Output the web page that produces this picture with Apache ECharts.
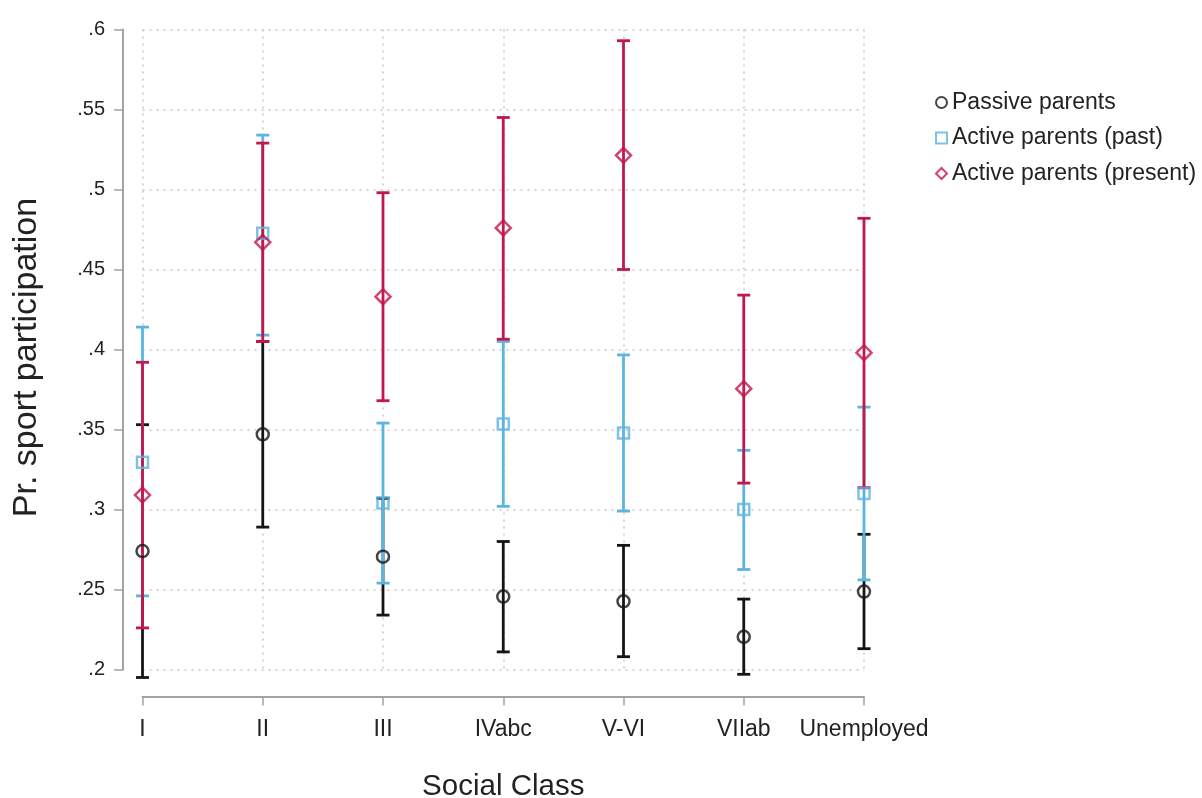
<!DOCTYPE html>
<html>
<head>
<meta charset="utf-8">
<script src="https://cdn.jsdelivr.net/npm/echarts@6/dist/echarts.min.js"></script>
<style>
  html, body { margin: 0; padding: 0; background: #fff; }
  #chart { width: 1202px; height: 798px; }
</style>
</head>
<body>
<div id="chart"></div>
<script>
// social class on the x axis
var categories = ['I', 'II', 'III', 'IVabc', 'V-VI', 'VIIab', 'Unemployed'];

// Passive parents
var passive   = [0.274, 0.347, 0.2705, 0.2456, 0.2426, 0.2204, 0.2487];
var passiveLo = [0.195, 0.289, 0.234, 0.211, 0.208, 0.197, 0.213];
var passiveHi = [0.353, 0.405, 0.307, 0.280, 0.2776, 0.244, 0.2845];

// Active parents (past)
var past   = [0.3295, 0.4726, 0.304, 0.3534, 0.3478, 0.300, 0.310];
var pastLo = [0.246, 0.409, 0.254, 0.302, 0.299, 0.2625, 0.256];
var pastHi = [0.414, 0.534, 0.354, 0.405, 0.3966, 0.337, 0.364];

// Active parents (present)
var present   = [0.309, 0.467, 0.433, 0.476, 0.5214, 0.3755, 0.398];
var presentLo = [0.226, 0.405, 0.368, 0.4064, 0.450, 0.3165, 0.3136];
var presentHi = [0.392, 0.529, 0.498, 0.545, 0.593, 0.434, 0.482];

var yTicks = { min: 0.2, max: 0.6, step: 0.05 };

var FONT = 'Liberation Sans, Arial, sans-serif';
var cBlack = '#151515', cBlue = '#5cb4e2', cRed = '#c4174c';
var axisGrey = '#a3a3a3';

function ciRows(lo, hi) {
    var rows = [];
    for (var i = 0; i < lo.length; i++) {
        rows.push([i, lo[i], hi[i]]);
    }
    return rows;
}

function errorBars(lo, hi, color) {
    return {
        type: 'custom',
        silent: true,
        data: ciRows(lo, hi),
        encode: { x: 0, y: [1, 2] },
        renderItem: function (params, api) {
            var a = api.coord([api.value(0), api.value(1)]);
            var b = api.coord([api.value(0), api.value(2)]);
            var half = 6.5;
            var st = { stroke: color, lineWidth: 2.8 };
            return {
                type: 'group',
                children: [
                    { type: 'line', shape: { x1: a[0], y1: a[1], x2: b[0], y2: b[1] }, style: st },
                    { type: 'line', shape: { x1: a[0] - half, y1: a[1], x2: a[0] + half, y2: a[1] }, style: st },
                    { type: 'line', shape: { x1: b[0] - half, y1: b[1], x2: b[0] + half, y2: b[1] }, style: st }
                ]
            };
        }
    };
}

function points(name, values, symbol, size, color) {
    return {
        name: name,
        type: 'scatter',
        data: values,
        symbol: symbol,
        symbolSize: size,
        z: 5,
        itemStyle: { color: 'rgba(255,255,255,0)', borderColor: color, borderWidth: 2.5 }
    };
}

var chart = echarts.init(document.getElementById('chart'));

var option = {
    animation: false,
    backgroundColor: '#fff',
    textStyle: { fontFamily: FONT },
    grid: { left: 142.5, right: 338, top: 29.5, bottom: 128.5, outerBoundsMode: 'none' },
    legend: {
        orient: 'vertical',
        left: 930,
        top: 86,
        itemWidth: 11,
        itemHeight: 11,
        itemGap: 12.5,
        textStyle: { fontSize: 23, color: '#222', fontFamily: FONT },
        data: ['Passive parents', 'Active parents (past)', 'Active parents (present)']
    },
    xAxis: {
        type: 'category',
        data: categories,
        boundaryGap: false,
        offset: 27,
        name: 'Social Class',
        nameLocation: 'middle',
        nameGap: 75,
        nameTextStyle: { fontSize: 29.5, color: '#222', fontFamily: FONT },
        axisLine: { lineStyle: { color: axisGrey, width: 2 } },
        axisTick: { interval: 0, alignWithLabel: true, length: 9, lineStyle: { color: axisGrey, width: 1.5 } },
        axisLabel: { interval: 0, fontSize: 23, color: '#222', margin: 22, fontFamily: FONT },
        splitLine: { show: true, interval: 0, lineStyle: { color: '#c8c8c8', type: [2, 5], width: 1.5 } }
    },
    yAxis: {
        type: 'value',
        min: yTicks.min,
        max: yTicks.max,
        interval: yTicks.step,
        offset: 19.5,
        name: 'Pr. sport participation',
        nameLocation: 'middle',
        nameGap: 79,
        nameTextStyle: { fontSize: 34, color: '#222', fontFamily: FONT, padding: [0, 16, 0, 0] },
        axisLine: { show: true, lineStyle: { color: axisGrey, width: 2 } },
        axisTick: { show: true, length: 9, lineStyle: { color: axisGrey, width: 1.5 } },
        axisLabel: {
            fontSize: 20,
            color: '#222',
            margin: 18,
            fontFamily: FONT,
            formatter: function (v) { return String(+v.toFixed(2)).replace(/^0/, ''); }
        },
        splitLine: { show: true, lineStyle: { color: '#c8c8c8', type: [2, 5], width: 1.5 } }
    },
    series: [
        errorBars(passiveLo, passiveHi, cBlack),
        errorBars(pastLo, pastHi, cBlue),
        errorBars(presentLo, presentHi, cRed),
        points('Passive parents', passive, 'circle', 12, cBlack),
        points('Active parents (past)', past, 'rect', 11, cBlue),
        points('Active parents (present)', present, 'diamond', 15, cRed)
    ]
};

chart.setOption(option);
</script>
</body>
</html>
